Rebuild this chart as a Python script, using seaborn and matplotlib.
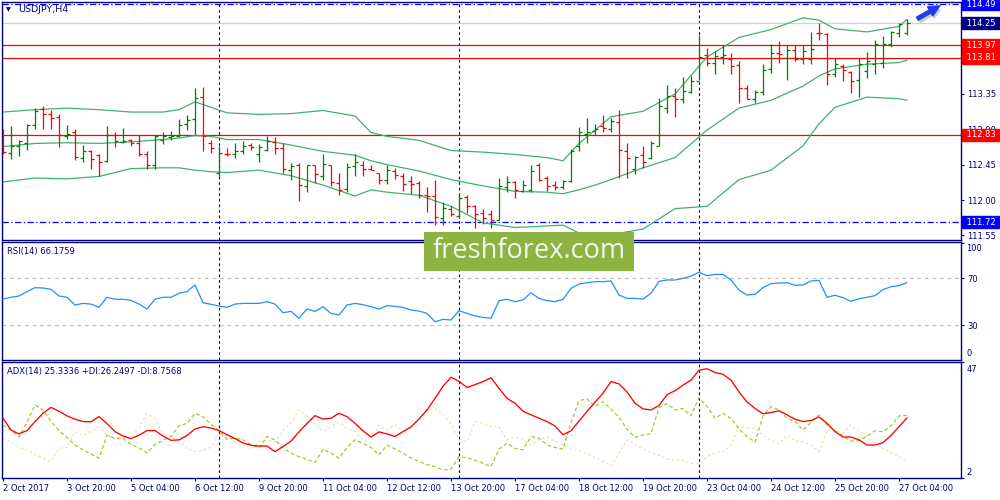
import numpy as np
import seaborn as sns
import matplotlib.pyplot as plt
from matplotlib.patches import Rectangle
from matplotlib.transforms import blended_transform_factory

# USDJPY H4 bars, bar 0 = 2 Oct 2017 12:00, last bar = 27 Oct 08:00
opens = [112.69, 112.60, 112.69, 112.73, 112.95, 113.16, 113.09, 113.06, 112.82, 112.86,
         112.53, 112.63, 112.57, 112.50, 112.83, 112.74, 112.76, 112.73, 112.58, 112.44,
         112.77, 112.80, 112.82, 112.97, 113.03, 113.31, 112.72, 112.35, 112.59, 112.58,
         112.63, 112.70, 112.58, 112.64, 112.74, 112.66, 112.38, 112.45, 112.18, 112.44,
         112.31, 112.44, 112.22, 112.14, 112.43, 112.44, 112.40, 112.34, 112.26, 112.37,
         112.30, 112.24, 112.22, 112.07, 112.05, 111.77, 111.88, 111.80, 112.04, 111.92,
         111.83, 111.82, 111.75, 112.17, 112.23, 112.11, 112.13, 112.45, 112.28, 112.19,
         112.17, 112.24, 112.69, 112.84, 112.88, 112.94, 112.90, 112.99, 112.63, 112.39,
         112.57, 112.54, 112.69, 113.17, 113.32, 113.29, 113.37, 113.51, 113.85, 113.75,
         113.82, 113.79, 113.72, 113.43, 113.28, 113.37, 113.67, 113.87, 113.81, 113.91,
         113.79, 113.79, 114.13, 114.11, 113.61, 113.70, 113.63, 113.53, 113.64, 113.73,
         113.75, 113.98, 114.13, 114.13]
highs = [112.90, 112.94, 112.77, 112.97, 113.17, 113.20, 113.14, 113.09, 112.95, 112.91,
         112.70, 112.64, 112.58, 112.94, 112.86, 112.92, 112.78, 112.83, 112.63, 112.83,
         112.87, 112.88, 113.03, 113.08, 113.42, 113.44, 112.77, 112.69, 112.66, 112.73,
         112.75, 112.72, 112.71, 112.82, 112.80, 112.72, 112.47, 112.47, 112.45, 112.44,
         112.58, 112.45, 112.35, 112.47, 112.58, 112.50, 112.44, 112.35, 112.44, 112.41,
         112.35, 112.31, 112.24, 112.17, 112.26, 111.97, 111.92, 112.08, 112.06, 111.94,
         111.88, 111.87, 112.28, 112.30, 112.24, 112.26, 112.45, 112.47, 112.30, 112.24,
         112.26, 112.65, 112.93, 113.05, 112.97, 113.08, 113.05, 113.15, 112.73, 112.56,
         112.69, 112.75, 113.30, 113.47, 113.42, 113.57, 113.58, 114.10, 113.94, 113.90,
         113.97, 113.87, 113.77, 113.47, 113.40, 113.73, 113.98, 114.02, 113.97, 113.97,
         113.97, 114.14, 114.25, 114.12, 113.81, 113.73, 113.64, 113.81, 113.88, 114.04,
         114.09, 114.15, 114.26, 114.31]
lows = [112.58, 112.52, 112.56, 112.64, 112.90, 112.91, 112.91, 112.67, 112.78, 112.51,
        112.49, 112.40, 112.30, 112.48, 112.67, 112.72, 112.69, 112.56, 112.40, 112.40,
        112.71, 112.76, 112.80, 112.89, 112.83, 112.62, 112.60, 112.30, 112.56, 112.54,
        112.58, 112.64, 112.49, 112.62, 112.58, 112.35, 112.26, 111.99, 112.10, 112.22,
        112.26, 112.18, 112.07, 112.10, 112.31, 112.31, 112.38, 112.21, 112.21, 112.27,
        112.11, 112.08, 112.02, 111.85, 111.68, 111.68, 111.80, 111.77, 111.84, 111.64,
        111.70, 111.65, 111.74, 112.10, 112.03, 112.10, 112.10, 112.24, 112.11, 112.13,
        112.14, 112.23, 112.62, 112.73, 112.83, 112.86, 112.86, 112.28, 112.28, 112.33,
        112.41, 112.52, 112.69, 113.11, 113.06, 113.23, 113.36, 113.53, 113.71, 113.60,
        113.73, 113.60, 113.24, 113.28, 113.24, 113.34, 113.62, 113.75, 113.53, 113.77,
        113.73, 113.73, 114.04, 113.46, 113.57, 113.51, 113.36, 113.31, 113.55, 113.60,
        113.68, 113.95, 114.07, 114.10]
closes = [112.61, 112.69, 112.75, 112.95, 113.13, 113.10, 113.05, 112.83, 112.84, 112.55,
          112.63, 112.52, 112.49, 112.83, 112.75, 112.75, 112.72, 112.58, 112.44, 112.81,
          112.81, 112.82, 112.96, 113.02, 113.30, 112.81, 112.66, 112.60, 112.58, 112.63,
          112.69, 112.68, 112.68, 112.75, 112.66, 112.39, 112.43, 112.19, 112.44, 112.33,
          112.46, 112.23, 112.13, 112.42, 112.49, 112.39, 112.38, 112.26, 112.38, 112.32,
          112.20, 112.20, 112.07, 112.05, 111.79, 111.90, 111.82, 112.03, 111.92, 111.82,
          111.77, 111.75, 112.18, 112.23, 112.13, 112.19, 112.37, 112.26, 112.18, 112.17,
          112.24, 112.62, 112.86, 112.87, 112.91, 112.92, 113.00, 112.64, 112.54, 112.55,
          112.49, 112.72, 113.20, 113.32, 113.29, 113.39, 113.51, 113.82, 113.75, 113.83,
          113.84, 113.70, 113.43, 113.29, 113.37, 113.66, 113.87, 113.86, 113.91, 113.80,
          113.90, 113.92, 114.12, 113.61, 113.73, 113.65, 113.51, 113.73, 113.77, 113.98,
          113.98, 114.14, 114.24, 114.25]

# Bollinger bands, read at these bar indices
band_idx = [0, 4, 8, 12, 16, 20, 22, 24, 26, 28, 32, 36, 40, 44, 46, 48, 52, 56,
            60, 64, 68, 70, 72, 74, 76, 80, 84, 88, 92, 96, 100, 102, 104, 108, 112, 113]
bb_upper = [113.12, 113.15, 113.17, 113.15, 113.12, 113.12, 113.15, 113.25, 113.18, 113.11,
            113.09, 113.10, 113.14, 113.07, 112.86, 112.81, 112.76, 112.63, 112.61, 112.58,
            112.54, 112.50, 112.72, 112.89, 113.06, 113.13, 113.35, 113.82, 114.07, 114.17,
            114.32, 114.29, 114.18, 114.14, 114.21, 114.30]
bb_middle = [112.68, 112.72, 112.73, 112.72, 112.74, 112.77, 112.79, 112.82, 112.81, 112.77,
             112.77, 112.70, 112.62, 112.57, 112.50, 112.45, 112.37, 112.26, 112.18, 112.11,
             112.10, 112.08, 112.13, 112.19, 112.26, 112.41, 112.54, 112.89, 113.17, 113.27,
             113.45, 113.58, 113.67, 113.73, 113.75, 113.78]
bb_lower = [112.23, 112.28, 112.27, 112.30, 112.40, 112.41, 112.41, 112.38, 112.36, 112.35,
            112.38, 112.31, 112.19, 112.05, 112.13, 112.10, 112.06, 111.92, 111.71, 111.65,
            111.67, 111.68, 111.58, 111.55, 111.56, 111.63, 111.89, 111.92, 112.26, 112.38,
            112.69, 112.97, 113.18, 113.31, 113.29, 113.27]

rsi = [52.3, 53.8, 54.9, 58.6, 62.0, 61.7, 60.6, 54.9, 53.8, 47.2,
       48.6, 48.0, 45.2, 53.8, 52.1, 52.1, 51.2, 48.0, 43.8, 52.1,
       53.8, 53.8, 57.2, 58.6, 64.3, 49.2, 47.8, 46.4, 45.2, 48.0,
       48.6, 48.6, 48.6, 50.1, 48.0, 40.7, 41.8, 35.9, 43.8, 41.8,
       45.8, 40.1, 38.7, 47.2, 48.6, 47.5, 45.8, 43.8, 46.7, 46.1,
       45.2, 43.0, 42.1, 40.1, 33.0, 35.0, 34.5, 42.4, 40.1, 37.9,
       36.7, 35.9, 50.9, 52.1, 50.1, 51.5, 57.7, 52.9, 50.9, 50.1,
       52.1, 61.4, 65.1, 66.2, 67.1, 67.1, 67.7, 55.7, 52.9, 52.9,
       52.3, 57.2, 67.4, 68.5, 68.5, 69.9, 71.9, 75.0, 72.2, 73.3,
       73.3, 68.5, 60.0, 55.7, 56.3, 62.0, 65.4, 65.9, 66.2, 64.0,
       64.3, 67.7, 68.2, 53.8, 55.5, 53.5, 50.3, 52.6, 53.8, 55.2,
       60.3, 62.8, 63.7, 66.18]

adx = [25.2, 20.6, 19.1, 20.4, 23.9, 27.1, 29.4, 27.9, 26.1, 24.8,
       23.9, 23.8, 25.8, 23.1, 20.0, 18.3, 17.3, 18.6, 20.4, 20.4,
       18.3, 16.6, 16.8, 18.5, 21.0, 21.9, 21.4, 20.4, 18.8, 17.3,
       15.6, 14.7, 14.4, 14.4, 12.2, 14.2, 16.3, 19.9, 23.2, 26.2,
       24.9, 25.2, 27.1, 25.8, 23.2, 20.3, 17.9, 19.9, 19.1, 18.1,
       20.0, 21.8, 24.9, 28.4, 32.9, 37.6, 41.1, 39.5, 37.1, 38.2,
       39.4, 40.9, 36.8, 32.9, 31.0, 27.9, 26.5, 25.2, 23.9, 22.2,
       18.8, 20.3, 24.1, 27.8, 31.4, 34.9, 39.4, 38.5, 35.4, 31.0,
       28.8, 28.4, 30.1, 34.3, 35.9, 38.0, 40.0, 43.8, 44.4, 42.9,
       42.2, 40.0, 35.4, 31.5, 29.0, 26.9, 27.4, 28.1, 26.5, 24.8,
       23.9, 24.3, 25.7, 23.2, 20.0, 17.9, 17.9, 16.8, 14.8, 14.8,
       15.7, 18.5, 21.9, 25.33]
plus_di = [22.6, 20.6, 17.9, 23.5, 30.3, 28.4, 23.9, 20.4, 17.7, 14.8,
           12.9, 11.3, 9.7, 18.6, 17.4, 17.4, 15.0, 13.7, 11.7, 15.0,
           16.6, 18.1, 22.3, 23.2, 27.1, 25.8, 22.8, 20.3, 17.0, 17.5,
           16.8, 15.0, 13.5, 18.1, 16.8, 13.7, 11.6, 10.3, 9.2, 8.0,
           13.2, 11.6, 9.7, 13.9, 16.8, 15.5, 13.8, 11.0, 14.7, 13.3,
           11.6, 9.8, 8.4, 7.2, 6.4, 5.1, 5.4, 10.3, 9.9, 8.9,
           7.7, 6.4, 13.2, 15.5, 13.5, 12.9, 18.1, 17.5, 14.8, 13.9,
           13.2, 23.6, 32.0, 32.7, 29.7, 31.6, 28.7, 25.6, 21.0, 17.8,
           18.7, 19.1, 29.3, 30.9, 28.4, 29.0, 26.1, 33.2, 29.7, 25.2,
           27.1, 25.2, 21.0, 18.1, 15.9, 26.1, 29.7, 28.4, 25.2, 23.9,
           20.6, 23.6, 26.5, 22.6, 20.3, 18.3, 16.3, 16.5, 18.2, 20.3,
           20.0, 22.2, 26.1, 26.25]
minus_di = [17.4, 15.9, 13.9, 12.8, 11.2, 9.7, 8.4, 13.5, 13.9, 20.0,
            18.5, 20.0, 21.8, 18.7, 16.8, 17.4, 17.9, 21.4, 27.1, 24.8,
            19.1, 18.1, 16.4, 13.5, 12.2, 12.9, 13.9, 19.1, 18.5, 16.1,
            14.4, 13.3, 16.1, 16.8, 16.1, 20.4, 23.5, 28.4, 26.1, 23.2,
            20.0, 21.9, 23.8, 21.3, 20.0, 16.8, 15.5, 22.5, 20.6, 22.6,
            20.3, 21.9, 24.4, 28.1, 29.0, 26.7, 22.8, 16.8, 16.1, 23.9,
            23.2, 21.9, 21.9, 16.8, 17.8, 17.0, 14.8, 17.0, 17.8, 16.4,
            14.8, 13.5, 12.6, 11.5, 9.9, 8.4, 6.7, 11.6, 16.8, 15.1,
            13.2, 12.0, 10.8, 9.3, 9.0, 8.8, 7.7, 7.5, 10.2, 11.9,
            12.1, 14.8, 22.2, 21.4, 21.3, 18.6, 16.6, 15.2, 18.6, 16.5,
            16.1, 14.8, 12.2, 20.6, 20.6, 19.4, 22.6, 20.3, 18.1, 15.5,
            13.4, 11.9, 10.2, 8.76]

tick_idx = list(range(0, 113, 8))
tick_labels = ['2 Oct 2017', '3 Oct 20:00', '5 Oct 04:00', '6 Oct 12:00', '9 Oct 20:00',
               '11 Oct 04:00', '12 Oct 12:00', '13 Oct 20:00', '17 Oct 04:00', '18 Oct 12:00',
               '19 Oct 20:00', '23 Oct 04:00', '24 Oct 12:00', '25 Oct 20:00', '27 Oct 04:00']
week_starts = [27, 57, 87]
price_ticks = [111.55, 112.00, 112.45, 112.90, 113.35, 113.80, 114.25]
hidden_ticks = [113.80, 114.25]   # fully covered by the level boxes
red_levels = [113.97, 113.81, 112.83]
blue_levels = [114.49, 111.72]
last_price = 114.25

NAVY = '#000080'


def main():
    sns.set_style('white')
    plt.rcParams['font.family'] = ['DejaVu Sans']

    fig = plt.figure(figsize=(10, 5), dpi=100)
    ax_p = fig.add_axes([0.002, 0.52, 0.959, 0.476])
    ax_r = fig.add_axes([0.002, 0.28, 0.959, 0.236])
    ax_a = fig.add_axes([0.002, 0.044, 0.959, 0.232])

    for ax in (ax_p, ax_r, ax_a):
        ax.set_xlim(-0.125, 119.75)
        for s in ax.spines.values():
            s.set_color(NAVY)
            s.set_linewidth(1.0)
        ax.yaxis.tick_right()
        ax.tick_params(axis='y', direction='out', length=2.5, width=0.8, pad=2,
                       colors=NAVY, labelsize=6)
        for w in week_starts:
            ax.axvline(w, color=NAVY, lw=0.8, ls=(0, (2.5, 2.5)), zorder=1)
        ax.set_xlabel('')
        ax.set_ylabel('')

    # ---- price panel
    ax_p.set_ylim(111.491, 114.521)
    ax_p.axhline(last_price, color='#D3D3D3', lw=0.9, zorder=1)
    for lv in red_levels:
        ax_p.axhline(lv, color='#FF0000', lw=0.9, zorder=1)
    for lv in blue_levels:
        ax_p.axhline(lv, color='#0000FF', lw=0.9, ls=(0, (5, 2, 1, 2)), zorder=1)

    band_color = '#3CB371'
    for band in (bb_upper, bb_middle, bb_lower):
        sns.lineplot(x=band_idx, y=band, ax=ax_p, color=band_color, lw=0.9, zorder=2)

    o = np.array(opens)
    h = np.array(highs)
    l = np.array(lows)
    c = np.array(closes)
    x = np.arange(len(o))
    cols = np.where(c >= o, '#008000', '#FF0000')
    ax_p.vlines(x, l, h, colors=cols, lw=0.9, zorder=3)
    ax_p.hlines(o, x - 0.32, x, colors=cols, lw=0.9, zorder=3)
    ax_p.hlines(c, x, x + 0.32, colors=cols, lw=0.9, zorder=3)

    ax_p.set_yticks(price_ticks)
    ax_p.set_yticklabels(['' if t in hidden_ticks else '%.2f' % t for t in price_ticks])
    ax_p.set_xticks([])

    # price labels in coloured boxes on the right scale
    tr = blended_transform_factory(ax_p.transAxes, ax_p.transData)
    boxes = [(114.49, '#0000FF'), (last_price, NAVY), (113.97, '#FF0000'),
             (113.81, '#FF0000'), (112.83, '#FF0000'), (111.72, '#0000FF')]
    for lv, col in boxes:
        ax_p.text(1.0028, lv, ' %.2f ' % lv, transform=tr, ha='left', va='center',
                  fontsize=6, color='white', clip_on=False, zorder=5,
                  bbox=dict(boxstyle='square,pad=0.16', fc=col, ec=col))

    # trend arrow
    style = 'simple,head_length=0.8,head_width=0.75,tail_width=0.25'
    ax_p.annotate('', xy=(117.6, 114.45), xytext=(114.2, 114.25),
                  arrowprops=dict(arrowstyle=style, fc='#C8C8D0', ec='none'),
                  annotation_clip=False, zorder=4)
    ax_p.annotate('', xy=(117.4, 114.49), xytext=(114.0, 114.29),
                  arrowprops=dict(arrowstyle=style, fc='#1F3CE6', ec='#1F3CE6'),
                  annotation_clip=False, zorder=5)

    # ---- RSI panel
    ax_r.set_ylim(0.43, 100.85)
    for lv in (30, 70):
        ax_r.axhline(lv, color='#C0C0C0', lw=0.9, ls=(0, (3, 3)), zorder=1)
    sns.lineplot(x=x, y=rsi, ax=ax_r, color='#1E90FF', lw=0.9, zorder=3)
    ax_r.set_yticks([30, 70, 100])
    ax_r.set_yticklabels(['30', '70', ''])
    ax_r.set_xticks([])
    trr = blended_transform_factory(ax_r.transAxes, ax_r.transData)
    ax_r.text(1.0055, 95.0, '100', transform=trr, ha='left', va='center',
              fontsize=6, color=NAVY, clip_on=False)
    ax_r.text(1.0055, 6.1, '0', transform=trr, ha='left', va='center',
              fontsize=6, color=NAVY, clip_on=False)

    # ---- ADX panel
    ax_a.set_ylim(2, 47)
    sns.lineplot(x=x, y=minus_di, ax=ax_a, color='#F5DEB3', lw=0.9,
                 ls=(0, (2, 2)), zorder=2)
    sns.lineplot(x=x, y=plus_di, ax=ax_a, color='#9ACD32', lw=0.9,
                 ls=(0, (3, 2)), zorder=3)
    sns.lineplot(x=x, y=adx, ax=ax_a, color='#FF0000', lw=0.95, zorder=4)
    ax_a.set_yticks([2, 47])
    ax_a.set_yticklabels(['', ''])
    tra = blended_transform_factory(ax_a.transAxes, ax_a.transData)
    ax_a.text(1.0055, 43.9, '47', transform=tra, ha='left', va='center',
              fontsize=6, color=NAVY, clip_on=False)
    ax_a.text(1.0055, 4.1, '2', transform=tra, ha='left', va='center',
              fontsize=6, color=NAVY, clip_on=False)
    ax_a.set_xticks(tick_idx)
    ax_a.set_xticklabels(tick_labels, ha='left')
    ax_a.tick_params(axis='x', direction='out', length=2.5, width=0.8, pad=1.5,
                     colors=NAVY, labelsize=6, bottom=True)

    # panel captions
    fig.text(0.006, 0.981, '\u25bc', fontsize=4.5, color=NAVY, va='center')
    fig.text(0.018, 0.981, 'USDJPY,H4', fontsize=6.8, color=NAVY, va='center')
    fig.text(0.007, 0.497, 'RSI(14) 66.1759', fontsize=6, color=NAVY, va='center')
    fig.text(0.007, 0.257, 'ADX(14) 25.3336 +DI:26.2497 -DI:8.7568', fontsize=6,
             color=NAVY, va='center')

    # watermark
    fig.patches.append(Rectangle((0.424, 0.458), 0.21, 0.078, transform=fig.transFigure,
                                 fc='#8DB443', ec='none', zorder=10))
    fig.text(0.529, 0.497, 'freshforex.com', fontsize=19.5, color='#F3F7EC',
             family='Open Sans', ha='center', va='center', zorder=11)

    fig.savefig('out.png', dpi=100)
    plt.close(fig)


if __name__ == '__main__':
    main()
